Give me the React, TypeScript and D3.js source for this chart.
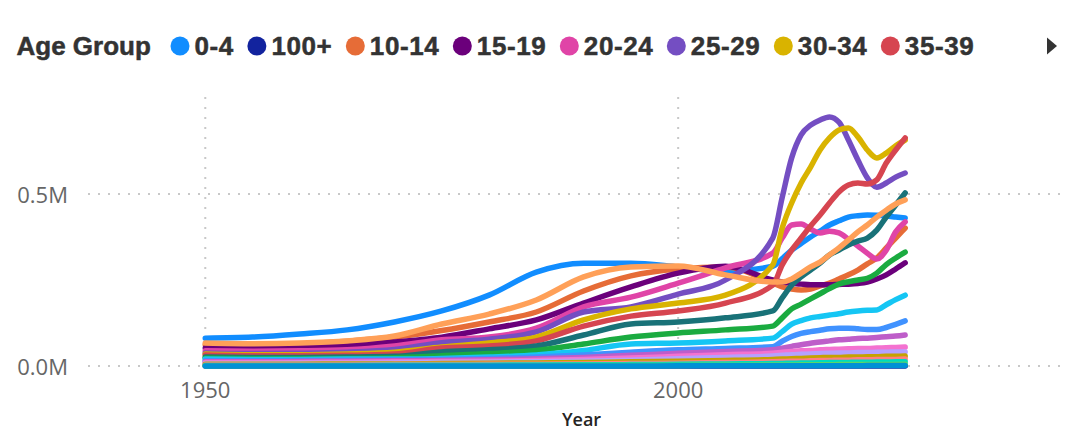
import React from "react";
import * as d3 from "d3";

// ---------- data (values in thousands) ----------
const years = [1950, 1955, 1960, 1965, 1970, 1975, 1980, 1985, 1990, 1995, 2000, 2005, 2010, 2011, 2012, 2013, 2014, 2015, 2016, 2017, 2018, 2019, 2020, 2021, 2022, 2023, 2024];

const ageGroups = ["0-4", "100+", "10-14", "15-19", "20-24", "25-29", "30-34", "35-39", "40-44", "45-49", "50-54", "55-59", "5-9", "60-64", "65-69", "70-74", "75-79", "80-84", "85-89", "90-94", "95-99"];

const groupColors = ["#118DFF", "#12239E", "#E66C37", "#6B007B", "#E044A7", "#744EC2", "#D9B300", "#D64550", "#197278", "#1AAB40", "#15C6F4", "#4092FF", "#FFA058", "#BE5DC9", "#F472D0", "#B5A1FF", "#C4A200", "#FF8080", "#00DBBC", "#5BD667", "#0091D5"];

const age0_4 = [81, 84, 93, 105, 128, 160, 206, 273, 299, 299, 288, 275, 290, 312, 337, 356, 375, 392, 410, 422, 433, 437, 439, 438, 436, 433, 430];
const age100 = [0, 0, 0, 0, 0, 0, 0, 0, 0, 0.1, 0.1, 0.1, 0.1, 0.1, 0.1, 0.1, 0.2, 0.2, 0.2, 0.2, 0.2, 0.2, 0.2, 0.2, 0.2, 0.2, 0.2];
const age10_14 = [62, 60, 64, 72, 84, 103, 128, 157, 218, 262, 282, 288, 241, 230, 224, 221, 224, 233, 241, 253, 265, 279, 297, 314, 343, 372, 401];
const age15_19 = [52, 52, 55, 61, 70, 84, 108, 134, 183, 230, 270, 290, 250, 244, 241, 238, 236, 236, 236, 237, 238, 240, 244, 253, 265, 282, 300];
const age20_24 = [44, 43, 44, 47, 58, 76, 84, 110, 172, 200, 241, 285, 328, 372, 410, 413, 398, 387, 392, 387, 369, 349, 328, 311, 337, 390, 419];
const age25_29 = [38, 36, 37, 40, 48, 68, 78, 99, 157, 172, 209, 250, 372, 490, 605, 672, 700, 715, 724, 709, 657, 599, 547, 520, 532, 549, 561];
const age30_34 = [35, 33, 33, 35, 40, 55, 67, 84, 134, 166, 183, 206, 294, 401, 474, 532, 578, 628, 663, 686, 692, 666, 628, 605, 619, 640, 657];
const age35_39 = [32, 30, 30, 31, 35, 52, 58, 73, 116, 145, 160, 183, 235, 294, 337, 372, 407, 439, 474, 506, 526, 532, 529, 541, 590, 628, 663];
const age40_44 = [26, 25, 25, 26, 28, 41, 47, 58, 90, 122, 128, 140, 160, 198, 235, 259, 279, 299, 323, 337, 352, 363, 372, 395, 433, 468, 503];
const age45_49 = [23, 22, 22, 22, 24, 30, 36, 45, 64, 84, 96, 105, 116, 140, 166, 180, 195, 210, 225, 238, 245, 250, 255, 270, 295, 314, 331];
const age50_54 = [20, 19, 19, 20, 20, 22, 26, 32, 45, 64, 67, 73, 81, 100, 122, 132, 140, 144, 148, 152, 157, 160, 162, 163, 178, 193, 206];
const age55_59 = [15, 15, 16, 17, 18, 19, 22, 26, 32, 40, 47, 51, 56, 72, 86, 95, 100, 104, 108, 110, 110, 108, 106, 106, 112, 121, 131];
const age5_9 = [67, 65, 67, 73, 87, 122, 151, 192, 259, 288, 291, 265, 244, 244, 253, 270, 288, 302, 323, 343, 366, 390, 410, 433, 453, 471, 483];
const age60_64 = [12, 12, 13, 14, 15, 16, 18, 21, 25, 31, 37, 42, 47, 52, 57, 62, 66, 70, 73, 76, 78, 80, 81, 83, 85, 87, 90];
const age65_69 = [10, 10, 10, 11, 12, 13, 14, 16, 19, 23, 28, 33, 37, 40, 42, 44, 45, 47, 48, 49, 50, 51, 51, 52, 53, 54, 55];
const age70_74 = [7, 7, 8, 8, 9, 10, 11, 12, 14, 17, 21, 25, 29, 31, 33, 34, 35, 36, 37, 38, 38, 39, 39, 40, 40, 41, 41];
const age75_79 = [5, 5, 5, 6, 6, 7, 8, 9, 10, 12, 14, 16, 19, 20, 21, 22, 23, 24, 25, 25, 26, 26, 27, 27, 28, 28, 29];
const age80_84 = [3, 3, 3, 3, 4, 4, 5, 5, 6, 7, 8, 10, 12, 13, 14, 14, 15, 16, 16, 17, 17, 18, 18, 19, 19, 19, 20];
const age85_89 = [1.5, 1.5, 1.6, 1.7, 1.9, 2.1, 2.4, 2.8, 3.3, 4, 5, 6, 7, 7.5, 8, 8.5, 9, 9.5, 10, 10, 10.5, 11, 11, 11.5, 11.5, 12, 12];
const age90_94 = [0.4, 0.4, 0.5, 0.5, 0.6, 0.7, 0.8, 0.9, 1.1, 1.4, 1.8, 2.2, 2.7, 2.9, 3.1, 3.3, 3.5, 3.7, 3.9, 4.0, 4.2, 4.3, 4.4, 4.5, 4.6, 4.7, 4.8];
const age95_99 = [0.1, 0.1, 0.1, 0.1, 0.1, 0.1, 0.2, 0.2, 0.2, 0.3, 0.4, 0.5, 0.6, 0.7, 0.7, 0.8, 0.8, 0.9, 0.9, 1.0, 1.0, 1.0, 1.1, 1.1, 1.1, 1.2, 1.2];

const seriesValues = [age0_4, age100, age10_14, age15_19, age20_24, age25_29, age30_34, age35_39, age40_44, age45_49, age50_54, age55_59, age5_9, age60_64, age65_69, age70_74, age75_79, age80_84, age85_89, age90_94, age95_99];

const xTicks = [1950, 2000];
const yTicks = [0, 500];
const legendTitle = "Age Group";
const legendVisibleCount = 8;

// ---------- layout ----------
const W = 1077;
const H = 431;
const plot = { left: 88, right: 1065, top: 97, bottom: 366 };

const legendFamily = "'Liberation Sans', Arial, sans-serif";
const legendSize = 26;
const legendSpacing = 0.6;
const legendFont = `bold ${legendSize}px ${legendFamily}`;
const tickFont = "'Open Sans', 'Noto Sans', sans-serif";

function measure(text: string, font: string, spacing: number): number {
  const c = document.createElement("canvas").getContext("2d");
  if (!c) return text.length * 14;
  c.font = font;
  return c.measureText(text).width + spacing * text.length;
}

export default function App() {
  const x = d3.scaleLinear().domain([1937.6, 2040.9]).range([plot.left, plot.right]);
  const y = d3.scaleLinear().domain([0, 782]).range([plot.bottom, plot.top]);

  const line = d3
    .line<number>()
    .x((_, i) => x(years[i]))
    .y((d) => y(d))
    .curve(d3.curveMonotoneX);

  const fmt = (v: number) => (v / 1000).toFixed(1) + "M";

  // legend layout
  const legendItems: { label: string; color: string; cx: number; tx: number }[] = [];
  let cx = 180;
  for (let i = 0; i < legendVisibleCount; i++) {
    const label = ageGroups[i];
    const tx = cx + 14.5;
    legendItems.push({ label, color: groupColors[i], cx, tx });
    cx = tx + measure(label, legendFont, legendSpacing) + 23;
  }

  const legendTextStyle = {
    fontFamily: legendFamily,
    fontWeight: 700,
    fontSize: legendSize,
    letterSpacing: legendSpacing,
  } as React.CSSProperties;

  return (
    <svg
      width={W}
      height={H}
      style={{ position: "absolute", left: 0, top: 0, background: "#fff" }}
    >
      {/* legend */}
      <g>
        <text
          x={16.5}
          y={55}
          style={{ fontFamily: legendFamily, fontWeight: 700, fontSize: legendSize }}
          fill="#333333"
          stroke="#333333"
          strokeWidth={0.5}
        >
          {legendTitle}
        </text>
        {legendItems.map((it) => (
          <g key={it.label}>
            <circle cx={it.cx} cy={46} r={9.5} fill={it.color} />
            <text
              x={it.tx}
              y={55}
              style={legendTextStyle}
              fill="#333333"
              stroke="#333333"
              strokeWidth={0.5}
            >
              {it.label}
            </text>
          </g>
        ))}
        <path d="M1047,37.5 L1057,46 L1047,54.5 Z" fill="#333333" />
      </g>

      {/* gridlines */}
      <g stroke="#C8C8C8" strokeWidth={2} strokeDasharray="2 8">
        {yTicks.map((t) => (
          <line key={"gy" + t} x1={plot.left} x2={plot.right} y1={y(t)} y2={y(t)} />
        ))}
        {xTicks.map((t) => (
          <line key={"gx" + t} x1={x(t)} x2={x(t)} y1={plot.top} y2={plot.bottom} />
        ))}
      </g>

      {/* y tick labels */}
      <g fontFamily={tickFont} fontSize={22} fill="#666666" textAnchor="end">
        {yTicks.map((t) => (
          <text key={"ty" + t} x={68} y={y(t) + 8.5}>
            {fmt(t)}
          </text>
        ))}
      </g>

      {/* x tick labels */}
      <g fontFamily={tickFont} fontSize={22} fill="#666666" textAnchor="middle">
        {xTicks.map((t) => (
          <text key={"tx" + t} x={x(t)} y={398}>
            {t}
          </text>
        ))}
      </g>

      {/* x axis title */}
      <text
        x={(plot.left + plot.right) / 2 + 5}
        y={426}
        textAnchor="middle"
        fontFamily={tickFont}
        fontWeight={600}
        fontSize={18}
        fill="#252423"
      >
        Year
      </text>

      {/* lines */}
      <g fill="none" strokeWidth={5.5} strokeLinecap="round" strokeLinejoin="round">
        {seriesValues.map((vals, i) => (
          <path key={ageGroups[i]} d={line(vals) || ""} stroke={groupColors[i]} />
        ))}
      </g>
    </svg>
  );
}
